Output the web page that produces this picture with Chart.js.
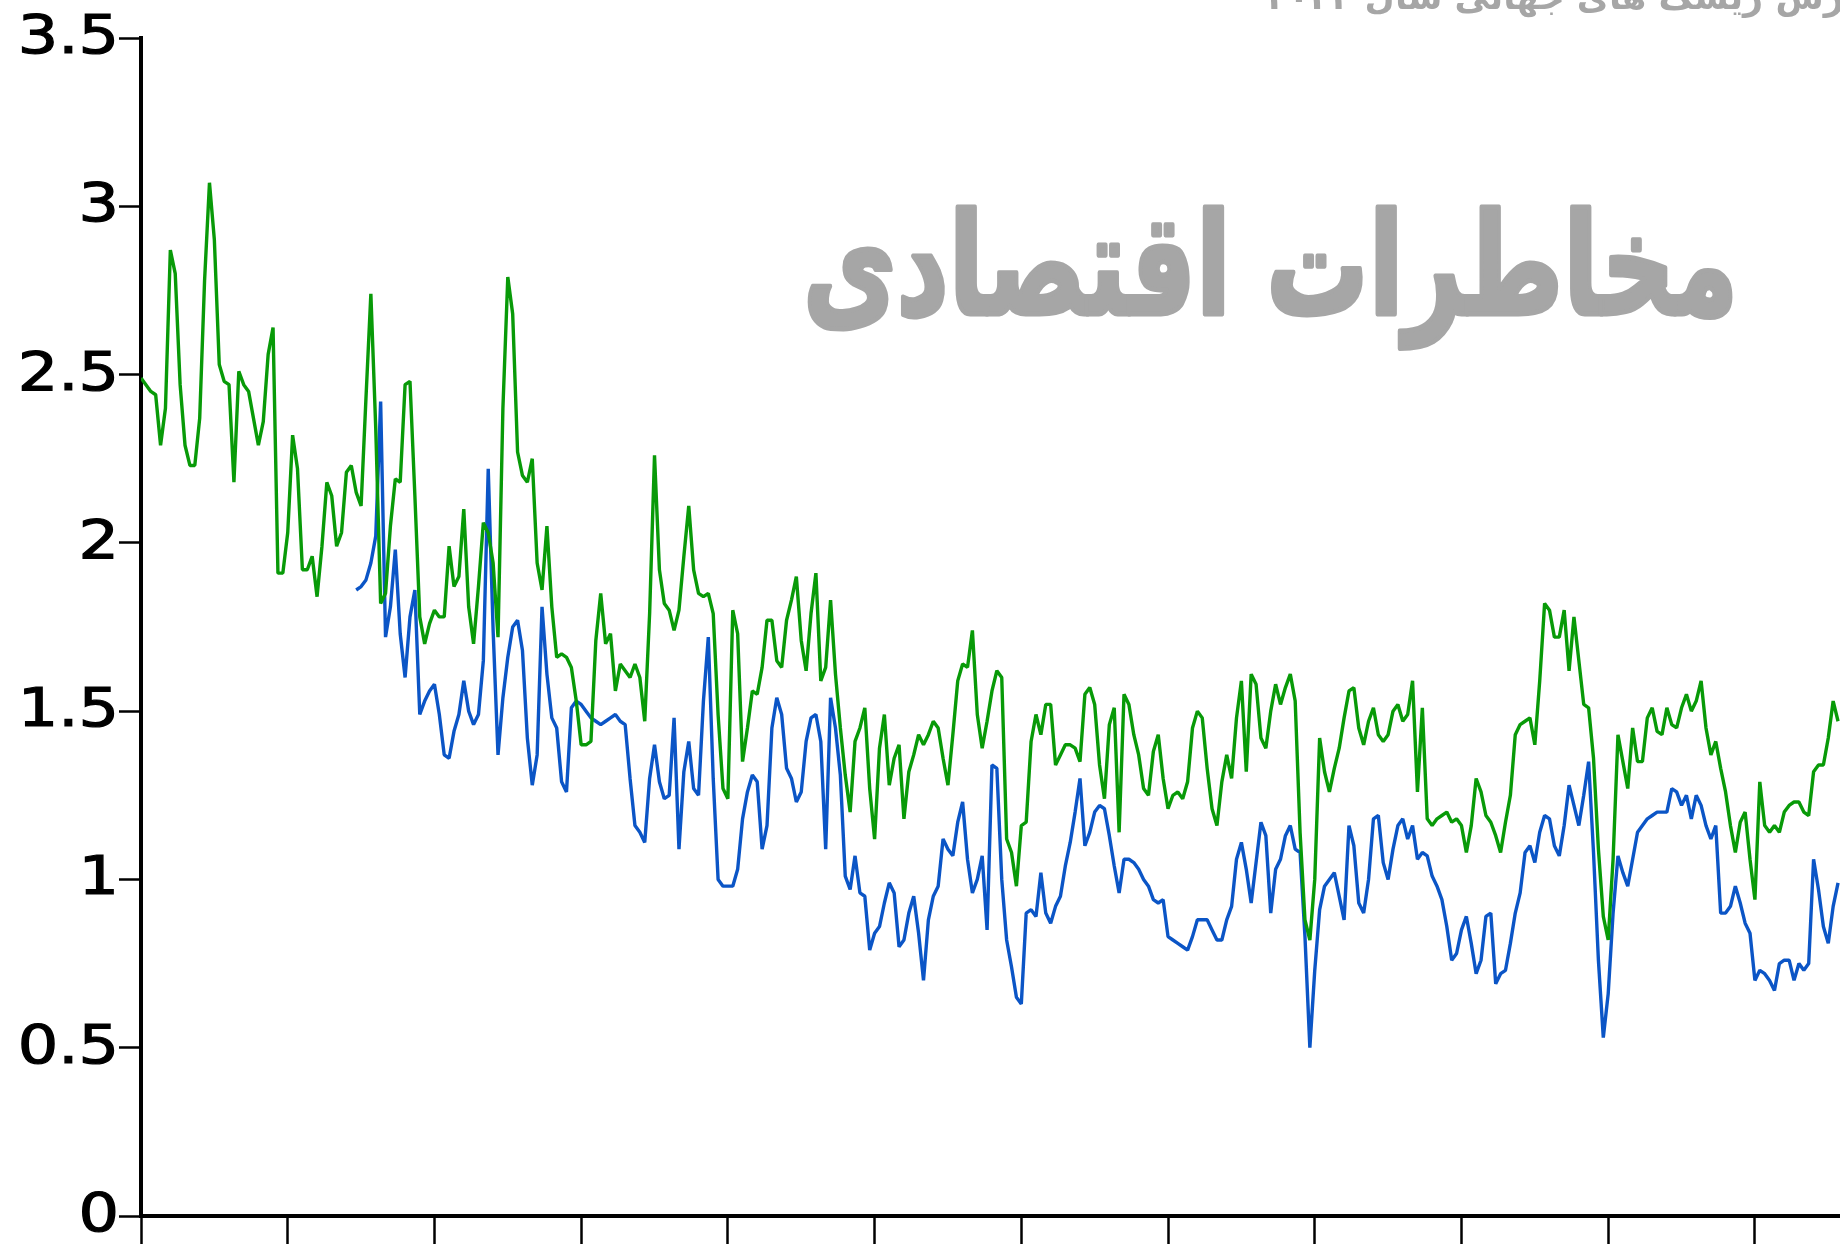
<!DOCTYPE html>
<html>
<head>
<meta charset="utf-8">
<script src="https://cdn.jsdelivr.net/npm/chart.js@4.4.1/dist/chart.umd.min.js"></script>
<style>
  html, body { margin: 0; padding: 0; background: #fff; }
  #wrap { width: 1840px; height: 1244px; }
</style>
</head>
<body>
<div id="wrap"><canvas id="chart" width="1840" height="1244"></canvas></div>
<script>
// Chart text
var titleText = 'مخاطرات اقتصادی';
var headerText = 'گزارش ریسک های جهانی سال ۲۰۲۲';

// x axis: 30 readings per tick interval
var periodsPerTick = 30;
var xMax = 11.58;

// y axis
var yMin = 0, yMax = 3.5, yStep = 0.5;

// Green series (starts at reading 0)
var green = [
  2.49, 2.47, 2.45, 2.44, 2.29, 2.40, 2.87, 2.80, 2.47, 2.29,
  2.23, 2.23, 2.37, 2.78, 3.07, 2.90, 2.53, 2.48, 2.47, 2.18,
  2.51, 2.47, 2.45, 2.37, 2.29, 2.36, 2.56, 2.64, 1.91, 1.91,
  2.03, 2.32, 2.22, 1.92, 1.92, 1.96, 1.84, 1.99, 2.18, 2.14,
  1.99, 2.03, 2.21, 2.23, 2.15, 2.11, 2.43, 2.74, 2.34, 1.82,
  1.85, 2.05, 2.19, 2.18, 2.47, 2.48, 2.14, 1.78, 1.70, 1.76,
  1.80, 1.78, 1.78, 1.99, 1.87, 1.90, 2.10, 1.81, 1.70, 1.87,
  2.06, 2.03, 1.94, 1.72, 2.40, 2.79, 2.68, 2.27, 2.20, 2.18,
  2.25, 1.94, 1.86, 2.05, 1.81, 1.66, 1.67, 1.66, 1.63, 1.53,
  1.40, 1.40, 1.41, 1.71, 1.85, 1.70, 1.73, 1.56, 1.64, 1.62,
  1.60, 1.64, 1.60, 1.47, 1.79, 2.26, 1.92, 1.82, 1.80, 1.74,
  1.80, 1.96, 2.11, 1.92, 1.85, 1.84, 1.85, 1.79, 1.49, 1.27,
  1.24, 1.80, 1.73, 1.35, 1.45, 1.56, 1.55, 1.63, 1.77, 1.77,
  1.65, 1.63, 1.77, 1.83, 1.90, 1.71, 1.62, 1.79, 1.91, 1.59,
  1.63, 1.83, 1.61, 1.45, 1.31, 1.20, 1.41, 1.45, 1.51, 1.27,
  1.12, 1.39, 1.49, 1.28, 1.36, 1.40, 1.18, 1.32, 1.37, 1.43,
  1.40, 1.43, 1.47, 1.45, 1.36, 1.28, 1.43, 1.59, 1.64, 1.63,
  1.74, 1.49, 1.39, 1.47, 1.56, 1.62, 1.60, 1.12, 1.08, 0.98,
  1.16, 1.17, 1.41, 1.49, 1.43, 1.52, 1.52, 1.34, 1.37, 1.40,
  1.40, 1.39, 1.35, 1.55, 1.57, 1.52, 1.34, 1.24, 1.46, 1.51,
  1.14, 1.55, 1.52, 1.43, 1.37, 1.27, 1.25, 1.38, 1.43, 1.30,
  1.21, 1.25, 1.26, 1.24, 1.29, 1.45, 1.50, 1.48, 1.33, 1.21,
  1.16, 1.29, 1.37, 1.30, 1.48, 1.59, 1.32, 1.61, 1.58, 1.42,
  1.39, 1.50, 1.58, 1.52, 1.57, 1.61, 1.53, 1.14, 0.88, 0.82,
  1.00, 1.42, 1.32, 1.26, 1.33, 1.39, 1.48, 1.56, 1.57, 1.45,
  1.40, 1.47, 1.51, 1.43, 1.41, 1.43, 1.50, 1.52, 1.47, 1.49,
  1.59, 1.26, 1.51, 1.18, 1.16, 1.18, 1.19, 1.20, 1.17, 1.18,
  1.16, 1.08, 1.16, 1.30, 1.26, 1.19, 1.17, 1.13, 1.08, 1.17,
  1.25, 1.43, 1.46, 1.47, 1.48, 1.40, 1.59, 1.82, 1.80, 1.72,
  1.72, 1.80, 1.62, 1.78, 1.65, 1.52, 1.51, 1.36, 1.09, 0.89,
  0.82, 1.06, 1.43, 1.35, 1.27, 1.45, 1.35, 1.35, 1.48, 1.51,
  1.44, 1.43, 1.51, 1.46, 1.45, 1.51, 1.55, 1.50, 1.53, 1.59,
  1.45, 1.37, 1.41, 1.33, 1.26, 1.16, 1.08, 1.17, 1.20, 1.06,
  0.94, 1.29, 1.16, 1.14, 1.16, 1.14, 1.20, 1.22, 1.23, 1.23,
  1.20, 1.19, 1.32, 1.34, 1.34, 1.42, 1.53, 1.47
];

// Blue series (starts later, at reading 44)
var blueStart = 44;
var blue = [
  1.86, 1.87, 1.89, 1.94, 2.02, 2.42,
  1.72, 1.81, 1.98, 1.73, 1.60, 1.78, 1.86, 1.49, 1.53, 1.56,
  1.58, 1.49, 1.37, 1.36, 1.44, 1.49, 1.59, 1.50, 1.46, 1.49,
  1.65, 2.22, 1.74, 1.37, 1.54, 1.66, 1.75, 1.77, 1.68, 1.42,
  1.28, 1.37, 1.81, 1.61, 1.48, 1.45, 1.29, 1.26, 1.51, 1.53,
  1.52, 1.50, 1.48, 1.47, 1.46, 1.47, 1.48, 1.49, 1.47, 1.46,
  1.30, 1.16, 1.14, 1.11, 1.30, 1.40, 1.29, 1.24, 1.25, 1.48,
  1.09, 1.32, 1.41, 1.27, 1.25, 1.53, 1.72, 1.30, 1.00, 0.98,
  0.98, 0.98, 1.03, 1.18, 1.26, 1.31, 1.29, 1.09, 1.16, 1.45,
  1.54, 1.49, 1.33, 1.30, 1.23, 1.26, 1.41, 1.48, 1.49, 1.41,
  1.09, 1.54, 1.45, 1.31, 1.01, 0.97, 1.07, 0.96, 0.95, 0.79,
  0.84, 0.86, 0.93, 0.99, 0.96, 0.80, 0.82, 0.90, 0.95, 0.84,
  0.70, 0.88, 0.95, 0.98, 1.12, 1.09, 1.07, 1.17, 1.23, 1.06,
  0.96, 1.00, 1.07, 0.85, 1.34, 1.33, 1.00, 0.82, 0.74, 0.65,
  0.63, 0.90, 0.91, 0.89, 1.02, 0.90, 0.87, 0.92, 0.95, 1.04,
  1.11, 1.20, 1.30, 1.10, 1.14, 1.20, 1.22, 1.21, 1.13, 1.04,
  0.96, 1.06, 1.06, 1.05, 1.03, 1.00, 0.98, 0.94, 0.93, 0.94,
  0.83, 0.82, 0.81, 0.80, 0.79, 0.83, 0.88, 0.88, 0.88, 0.85,
  0.82, 0.82, 0.88, 0.92, 1.06, 1.11, 1.03, 0.93, 1.05, 1.17,
  1.13, 0.90, 1.03, 1.06, 1.13, 1.16, 1.09, 1.08, 0.83, 0.50,
  0.73, 0.91, 0.98, 1.00, 1.02, 0.95, 0.88, 1.16, 1.10, 0.93,
  0.90, 1.00, 1.18, 1.19, 1.05, 1.00, 1.09, 1.16, 1.18, 1.12,
  1.16, 1.06, 1.08, 1.07, 1.01, 0.98, 0.94, 0.86, 0.76, 0.78,
  0.85, 0.89, 0.81, 0.72, 0.76, 0.89, 0.90, 0.69, 0.72, 0.73,
  0.81, 0.90, 0.96, 1.08, 1.10, 1.05, 1.14, 1.19, 1.18, 1.10,
  1.07, 1.16, 1.28, 1.22, 1.16, 1.25, 1.35, 1.08, 0.76, 0.53,
  0.66, 0.90, 1.07, 1.02, 0.98, 1.06, 1.14, 1.16, 1.18, 1.19,
  1.20, 1.20, 1.20, 1.27, 1.26, 1.22, 1.25, 1.18, 1.25, 1.22,
  1.16, 1.12, 1.16, 0.90, 0.90, 0.92, 0.98, 0.93, 0.87, 0.84,
  0.70, 0.73, 0.72, 0.70, 0.67, 0.75, 0.76, 0.76, 0.70, 0.75,
  0.73, 0.75, 1.06, 0.97, 0.86, 0.81, 0.92, 0.99
];

function toPoints(values, start) {
  return values.map(function (v, i) {
    return { x: (start + i) / periodsPerTick, y: v };
  });
}

// y tick labels: the source font is wide, so draw them stretched
var yLabels = {
  id: 'yLabels',
  afterDraw: function (chart) {
    var s = chart.scales.y;
    var c = chart.ctx;
    c.save();
    c.fillStyle = '#000';
    c.strokeStyle = '#000';
    c.lineWidth = 1.2;
    c.font = '54px "DejaVu Sans"';
    c.textAlign = 'right';
    c.textBaseline = 'middle';
    s.ticks.forEach(function (t) {
      var y = s.getPixelForValue(t.value);
      c.save();
      c.translate(119, y + 1);
      c.scale(1.18, 1);
      c.fillText(String(t.value), 0, 0);
      c.strokeText(String(t.value), 0, 0);
      c.restore();
    });
    c.restore();
  }
};

// gray Persian text painted over the plot
var textPlugin = {
  id: 'persianText',
  afterDraw: function (chart) {
    var c = chart.ctx;
    c.save();
    c.fillStyle = '#a6a6a6';
    c.strokeStyle = '#a6a6a6';
    c.lineJoin = 'round';
    c.direction = 'rtl';
    c.textAlign = 'right';
    c.textBaseline = 'alphabetic';

    // big title, fitted to its width in the picture, taller letters
    var size = 100;
    c.font = 'bold ' + size + 'px "DejaVu Sans"';
    var w = c.measureText(titleText).width;
    size = size * 935 / w;
    c.font = 'bold ' + size + 'px "DejaVu Sans"';
    c.save();
    c.translate(1738, 314);
    c.scale(1, 1.38);
    c.lineWidth = 3.5;
    c.fillText(titleText, 0, 0);
    c.strokeText(titleText, 0, 0);
    c.restore();

    // header, cut off by the top edge
    c.font = 'bold 35px "DejaVu Sans"';
    c.fillText(headerText, 1898, 9);
    c.restore();
  }
};

var whiteBg = {
  id: 'whiteBg',
  beforeDraw: function (chart) {
    var c = chart.ctx;
    c.save();
    c.fillStyle = '#fff';
    c.fillRect(0, 0, chart.width, chart.height);
    c.restore();
  }
};

new Chart(document.getElementById('chart'), {
  type: 'line',
  data: {
    datasets: [
      {
        label: 'blue',
        data: toPoints(blue, blueStart),
        borderColor: '#0b55c6',
        borderWidth: 3.4,
        pointRadius: 0,
        tension: 0,
        borderJoinStyle: 'bevel',
        order: 2
      },
      {
        label: 'green',
        data: toPoints(green, 0),
        borderColor: '#089a08',
        borderWidth: 3.4,
        pointRadius: 0,
        tension: 0,
        borderJoinStyle: 'bevel',
        order: 1
      }
    ]
  },
  options: {
    responsive: false,
    animation: false,
    devicePixelRatio: 1,
    layout: { padding: { top: 38, right: 0, bottom: 0, left: 0 } },
    plugins: {
      legend: { display: false },
      tooltip: { enabled: false }
    },
    scales: {
      x: {
        type: 'linear',
        min: 0,
        max: xMax,
        ticks: { display: false, stepSize: 1, includeBounds: false },
        grid: { drawOnChartArea: false, tickLength: 28, tickWidth: 2.5, tickColor: '#000' },
        border: { color: '#000', width: 4 }
      },
      y: {
        min: yMin,
        max: yMax,
        ticks: { display: false, stepSize: yStep },
        grid: { drawOnChartArea: false, tickLength: 22, tickWidth: 2.5, tickColor: '#000' },
        border: { color: '#000', width: 4 },
        afterFit: function (scale) {
          scale.width = 141;
          scale.paddingTop = 0;
          scale.paddingBottom = 0;
        }
      }
    }
  },
  plugins: [whiteBg, yLabels, textPlugin]
});
</script>
</body>
</html>
